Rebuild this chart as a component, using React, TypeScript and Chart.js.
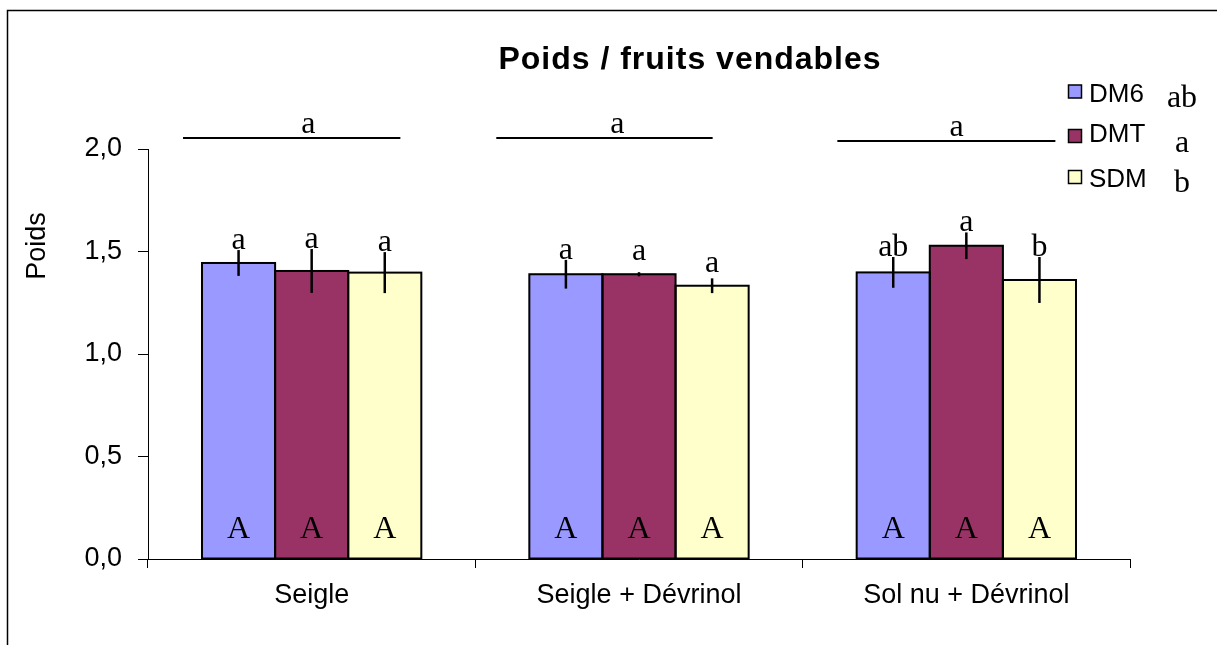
import React, { useEffect, useRef } from "react";
import { Chart, registerables } from "chart.js";

Chart.register(...registerables);

const categories = ["Seigle", "Seigle + Dévrinol", "Sol nu + Dévrinol"];
const seriesNames = ["DM6", "DMT", "SDM"];
const seriesColors = ["#9999FF", "#993366", "#FFFFCC"];

const dm6Values = [1.444, 1.389, 1.398];
const dmtValues = [1.405, 1.389, 1.528];
const sdmValues = [1.397, 1.333, 1.361];

const dm6Errors = [0.063, 0.07, 0.075];
const dmtErrors = [0.107, 0.01, 0.065];
const sdmErrors = [0.1, 0.036, 0.112];

const dm6Letters = ["a", "a", "ab"];
const dmtLetters = ["a", "a", "a"];
const sdmLetters = ["a", "a", "b"];

const baseLetters = ["A", "A", "A"];
const legendLetters = ["ab", "a", "b"];

// group comparison annotations (category-index units / value units)
const groupLetters = ["a", "a", "a"];
const groupLineStart = [-0.393, 0.564, 1.606];
const groupLineEnd = [0.271, 1.225, 2.272];
const groupLineValue = [2.054, 2.054, 2.039];
const groupLetterX = [-0.01, 0.934, 1.97];

const yTicks = [0, 0.5, 1, 1.5, 2];

const SANS = '"Liberation Sans", Arial, sans-serif';
const SERIF = '"Liberation Serif", "Times New Roman", serif';

const allValues = [dm6Values, dmtValues, sdmValues];
const allErrors = [dm6Errors, dmtErrors, sdmErrors];
const allLetters = [dm6Letters, dmtLetters, sdmLetters];

const overlayPlugin = {
  id: "overlay",
  afterDatasetsDraw(chart: any) {
    const ctx = chart.ctx;
    const ys = chart.scales.y;
    ctx.save();

    // bar outlines (shared edges)
    for (let d = 0; d < 3; d++) {
      const meta = chart.getDatasetMeta(d);
      meta.data.forEach((bar: any) => {
        const l = bar.x - bar.width / 2;
        const r = bar.x + bar.width / 2;
        ctx.strokeStyle = "#000";
        ctx.lineWidth = 2;
        ctx.strokeRect(l, bar.y, r - l, bar.base - bar.y);
      });
    }

    // error bars and letters
    for (let d = 0; d < 3; d++) {
      const meta = chart.getDatasetMeta(d);
      meta.data.forEach((bar: any, j: number) => {
        const v = allValues[d][j];
        const e = allErrors[d][j];
        const top = ys.getPixelForValue(v + e);
        const bot = ys.getPixelForValue(v - e);
        ctx.strokeStyle = "#000";
        ctx.lineWidth = 2.5;
        ctx.beginPath();
        ctx.moveTo(bar.x, top);
        ctx.lineTo(bar.x, bot);
        ctx.stroke();

        ctx.fillStyle = "#000";
        ctx.font = `32px ${SERIF}`;
        ctx.textAlign = "center";
        ctx.textBaseline = "alphabetic";
        const base = Math.min(top, bar.y - 13) - 1;
        ctx.fillText(allLetters[d][j], bar.x, base);

        ctx.fillText(baseLetters[j], bar.x, ys.getPixelForValue(0) - 21);
      });
    }
    ctx.restore();
  },
  afterDraw(chart: any) {
    const ctx = chart.ctx;
    const xs = chart.scales.x;
    const ys = chart.scales.y;
    ctx.save();

    // outer frame
    ctx.strokeStyle = "#000";
    ctx.lineWidth = 1.5;
    ctx.beginPath();
    ctx.moveTo(7.5, 645);
    ctx.lineTo(7.5, 10.5);
    ctx.lineTo(1217, 10.5);
    ctx.stroke();

    // title
    ctx.fillStyle = "#000";
    ctx.font = `bold 32px ${SANS}`;
    ctx.textAlign = "center";
    ctx.textBaseline = "alphabetic";
    try {
      (ctx as any).letterSpacing = "1px";
    } catch (e) {}
    ctx.fillText("Poids / fruits vendables", 690, 69);
    try {
      (ctx as any).letterSpacing = "0px";
    } catch (e) {}

    // y title
    ctx.save();
    ctx.translate(45, 246);
    ctx.rotate(-Math.PI / 2);
    ctx.font = `27px ${SANS}`;
    ctx.textAlign = "center";
    ctx.textBaseline = "alphabetic";
    ctx.fillText("Poids", 0, 0);
    ctx.restore();

    // group lines
    for (let g = 0; g < 3; g++) {
      const y = ys.getPixelForValue(groupLineValue[g]);
      ctx.strokeStyle = "#000";
      ctx.lineWidth = 2;
      ctx.beginPath();
      ctx.moveTo(xs.getPixelForValue(groupLineStart[g]), y);
      ctx.lineTo(xs.getPixelForValue(groupLineEnd[g]), y);
      ctx.stroke();
      ctx.font = `32px ${SERIF}`;
      ctx.textAlign = "center";
      ctx.fillText(groupLetters[g], xs.getPixelForValue(groupLetterX[g]), y - 5);
    }

    // legend
    const legendTop = [85, 129.5, 170.5];
    const legendBaseline = [102, 142, 187];
    const letterBaseline = [107, 152, 192];
    for (let i = 0; i < 3; i++) {
      ctx.fillStyle = seriesColors[i];
      ctx.fillRect(1068.5, legendTop[i], 13, 13);
      ctx.strokeStyle = "#000";
      ctx.lineWidth = 1.5;
      ctx.strokeRect(1068.5, legendTop[i], 13, 13);
      ctx.fillStyle = "#000";
      ctx.font = `26px ${SANS}`;
      ctx.textAlign = "left";
      ctx.fillText(seriesNames[i], 1089, legendBaseline[i]);
      ctx.font = `32px ${SERIF}`;
      ctx.textAlign = "center";
      ctx.fillText(legendLetters[i], 1182, letterBaseline[i]);
    }
    ctx.restore();
  },
};

export default function App() {
  const ref = useRef<HTMLCanvasElement>(null);
  useEffect(() => {
    if (!ref.current) return;
    const chart = new Chart(ref.current, {
      type: "bar",
      data: {
        labels: categories,
        datasets: seriesNames.map((name, i) => ({
          label: name,
          data: allValues[i],
          backgroundColor: seriesColors[i],
          borderWidth: 0,
          inflateAmount: 0.5,
          categoryPercentage: 0.67,
          barPercentage: 1,
        })),
      },
      options: {
        responsive: false,
        animation: false,
        events: [],
        layout: { padding: { left: 0, top: 149, right: 87, bottom: 0 } },
        plugins: {
          legend: { display: false },
          title: { display: false },
          tooltip: { enabled: false },
        },
        scales: {
          x: {
            afterFit: (s: any) => {
              s.height = 86;
            },
            grid: {
              offset: true,
              drawOnChartArea: false,
              drawTicks: true,
              tickLength: 9,
              color: "#000",
              lineWidth: 1,
            },
            border: { display: true, color: "#000", width: 1 },
            ticks: {
              color: "#000",
              padding: 11,
              maxRotation: 0,
              font: { family: SANS, size: 27 },
            },
          },
          y: {
            min: 0,
            max: 2,
            afterFit: (s: any) => {
              s.width = 148;
            },
            afterBuildTicks: (s: any) => {
              s.ticks = yTicks.map((v) => ({ value: v }));
            },
            grid: {
              drawOnChartArea: false,
              drawTicks: true,
              tickLength: 10,
              color: "#000",
              lineWidth: 1,
            },
            border: { display: true, color: "#000", width: 1 },
            ticks: {
              color: "#000",
              padding: 16,
              font: { family: SANS, size: 27 },
              callback: (v: any) => Number(v).toFixed(1).replace(".", ","),
            },
          },
        },
      },
      plugins: [overlayPlugin],
    });
    return () => chart.destroy();
  }, []);
  return (
    <div style={{ position: "absolute", left: 0, top: 0, width: 1217, height: 645, background: "#fff" }}>
      <canvas ref={ref} width={1217} height={645} style={{ width: 1217, height: 645, display: "block" }} />
    </div>
  );
}
